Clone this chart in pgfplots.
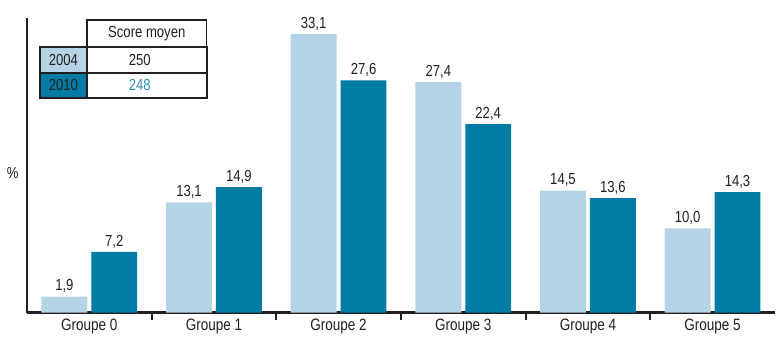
\documentclass[border=0pt]{standalone}
\usepackage{pgfplots}
\pgfplotsset{compat=1.18}
\usetikzlibrary{calc}
\usepackage{fontspec}
\setmainfont{Liberation Sans}[FakeStretch=0.82]
\definecolor{light}{HTML}{B4D4E6}
\definecolor{dark}{HTML}{007BA4}
\definecolor{txt}{HTML}{231F20}
\definecolor{val}{HTML}{2E95BA}
\begin{document}
\begin{tikzpicture}[x=1pt,y=1pt]
\begin{axis}[
  name=ax,
  scale only axis,
  width=749pt, height=295pt,
  xmin=-0.5, xmax=5.5, ymin=0, ymax=35,
  axis x line=bottom, axis y line=left,
  axis line style={-, line width=2.2pt, color=txt},
  ytick=\empty,
  xtick={0,1,2,3,4,5},
  xticklabels={Groupe 0,Groupe 1,Groupe 2,Groupe 3,Groupe 4,Groupe 5},
  major x tick style={draw=none},
  minor xtick={0.5,1.5,2.5,3.5,4.5},
  minor x tick style={line width=2pt, color=txt},
  minor tick length=7pt,
  tick align=outside,
  xticklabel style={font=\fontsize{16.5}{18}\selectfont, text=txt, yshift=1pt},
  ylabel={\%},
  ylabel style={rotate=-90, at={(axis description cs:0,0.475)}, anchor=east, xshift=-5pt, font=\fontsize{16}{18}\selectfont, text=txt},
  ybar, bar width=0.368,
  nodes near coords,
  nodes near coords style={font=\fontsize{16}{18}\selectfont, text=txt, yshift=0pt,
    /pgf/number format/fixed, /pgf/number format/fixed zerofill, /pgf/number format/precision=1, /pgf/number format/use comma, /pgf/number format/assume math mode=true},
  clip=false,
]
\addplot[fill=light, draw=none, bar shift=-0.2] coordinates {(0,1.9) (1,13.1) (2,33.1) (3,27.4) (4,14.5) (5,10.0)};
\addplot[fill=dark, draw=none, bar shift=0.2] coordinates {(0,7.2) (1,14.9) (2,27.6) (3,22.4) (4,13.6) (5,14.3)};
\end{axis}
\begin{scope}[shift={($(ax.north west)+(-27pt,18pt)$)}, x=1pt, y=-1pt]
\fill[light] (40,47) rectangle (87,73);
\fill[dark] (40,73) rectangle (87,98);
\draw[line width=1.5pt, txt] (87,20) rectangle (207,47);
\draw[line width=2pt, txt] (40,47) rectangle (207,98);
\draw[line width=2pt, txt] (40,73) -- (207,73);
\draw[line width=2pt, txt] (87,47) -- (87,98);
\node[font=\fontsize{16}{18}\selectfont, text=txt] at (147,33.5) {Score moyen};
\node[font=\fontsize{16}{18}\selectfont, text=txt] at (63.5,60) {2004};
\node[font=\fontsize{16}{18}\selectfont, text=txt] at (63.5,85.5) {2010};
\node[font=\fontsize{16}{18}\selectfont, text=txt] at (140,60) {250};
\node[font=\fontsize{16}{18}\selectfont, text=val] at (140,85.5) {248};
\end{scope}
\useasboundingbox ($(ax.south west)+(-27pt,-29pt)$) rectangle ($(ax.north east)+(0pt,18pt)$);
\end{tikzpicture}
\end{document}
